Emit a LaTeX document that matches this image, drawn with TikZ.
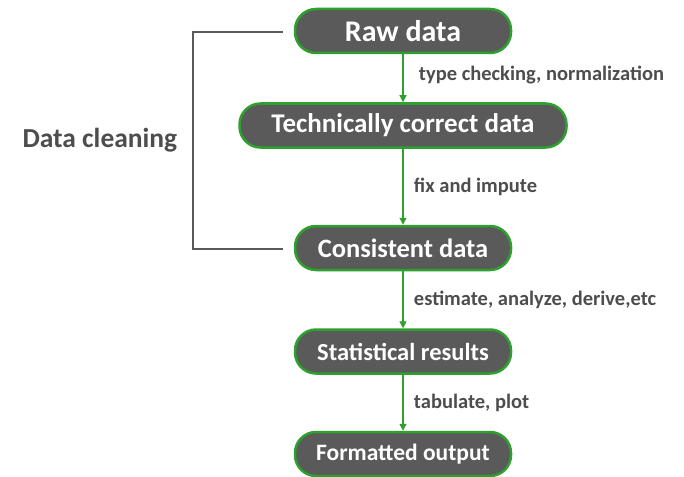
\documentclass[tikz,border=0pt]{standalone}
\usepackage{fontspec}
\setmainfont{Carlito}
\usetikzlibrary{calc,positioning,arrows.meta}
\definecolor{boxgray}{HTML}{5A5A5A}
\definecolor{boxgreen}{HTML}{2EA02E}
\definecolor{textgray}{HTML}{4D4D4D}

\begin{document}
\begin{tikzpicture}[x=1pt,y=1pt]
\tikzset{stage/.style={shape=rectangle,draw=boxgreen,line width=2.5pt,fill=boxgray,rounded corners=21pt,minimum height=44pt,text=white,inner xsep=0pt}}
\tikzset{flow/.style={draw=boxgreen,line width=1.3pt,-{Triangle[length=7pt,width=7pt]}}}
\tikzset{steplabel/.style={anchor=west,text=textgray,font=\bfseries\fontsize{20.5}{24}\selectfont}}
\tikzset{bracket/.style={draw=boxgray,line width=2pt}}
\def\lx{7pt}
\useasboundingbox (0,0) rectangle (684,-476);
%
\node at (403,-31) [stage,minimum width=216pt,font=\bfseries\fontsize{30}{34}\selectfont] (raw) {Raw data};
\node [stage,below=48pt of raw,minimum width=327pt,font=\bfseries\fontsize{27}{32}\selectfont] (tech) {Technically correct data};
\node [stage,below=76pt of tech,minimum width=216pt,font=\bfseries\fontsize{26.5}{32}\selectfont] (cons) {Consistent data};
\node [stage,below=57pt of cons,minimum width=216pt,font=\bfseries\fontsize{24.5}{30}\selectfont] (stat) {Statistical results};
\node [stage,below=56pt of stat,minimum width=216pt,font=\bfseries\fontsize{23.5}{30}\selectfont] (out) {Formatted output};
%
\draw[flow] (raw) -- (tech) node[midway,steplabel,xshift=\lx+5pt,yshift=3pt] (lab1) {type checking, normalization};
\draw[flow] (tech) -- (cons) node[midway,steplabel,xshift=\lx] (lab2) {fix and impute};
\draw[flow] (cons) -- (stat) node[midway,steplabel,xshift=\lx] (lab3) {estimate, analyze, derive,etc};
\draw[flow] (stat) -- (out) node[midway,steplabel,xshift=\lx] (lab4) {tabulate, plot};
%
\coordinate (brtop) at ($(raw.west)+(-11,-1)$);
\coordinate (brbot) at ($(cons.west)+(-11,-1)$);
\draw[bracket] (brtop) -- ++(-90,0) coordinate (brcorner) |- (brbot);
\node [anchor=east,text=textgray,font=\bfseries\fontsize{27.5}{32}\selectfont] at ($(brcorner)!0.5!(brcorner |- brbot)+(-12,0)$) (cleaning) {Data cleaning};
\end{tikzpicture}
\end{document}
